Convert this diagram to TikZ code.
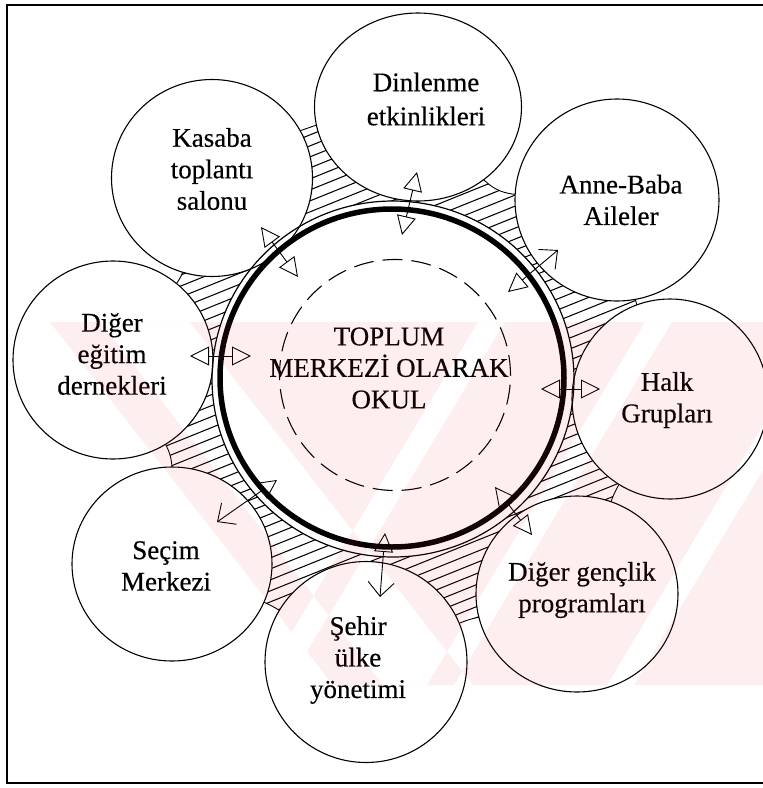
\documentclass[tikz,border=0pt]{standalone}
\usepackage{fontspec}
\setmainfont{Liberation Serif}[FakeBold=0.4]
\usetikzlibrary{shapes.geometric,arrows.meta}
\definecolor{wmpink}{RGB}{235,40,70}
\begin{document}
\begin{tikzpicture}[x=1pt,y=-1pt,
  bubble/.style={draw,line width=1.1pt,ellipse,inner sep=0pt,fill=white},
  lbl/.style={align=center,inner sep=0pt,font=\fontsize{27}{31.5}\selectfont},
  link/.style={line width=0.9pt,>={Triangle[open,length=19pt,width=19pt]},<->},
  barblink/.style={line width=0.9pt,{Triangle[open,length=19pt,width=19pt]}-{Straight Barb[length=14pt,width=26pt]}},
  hatch/.style={line width=1.05pt},
  ringthin/.style={line width=1.2pt},
  ringthick/.style={line width=5.5pt},
]
\useasboundingbox (0,0) rectangle (763,788);
% frame
\draw[line width=1.5pt] (775,5) -- (7,5) -- (7,783) -- (775,783);

% hatched band between the ring and the outer circles
\begin{scope}
\clip plot[smooth cycle,tension=0.55] coordinates {(212,178) (308,128) (418,107) (498,190) (617,200) (636,302) (670,399) (615,492) (577,594) (468,620) (366,662) (270,605) (172,564) (170,455) (113,360) (180,278)};
\foreach \k in {-400,-389,...,1300} \draw[hatch] (0,\k) -- (763,\k-308);
\end{scope}
\draw[line width=0.9pt] plot[smooth cycle,tension=0.55] coordinates {(212,178) (308,128) (418,107) (498,190) (617,200) (636,302) (670,399) (615,492) (577,594) (468,620) (366,662) (270,605) (172,564) (170,455) (113,360) (180,278)};

% centre disc
\fill[white] (393,379) ellipse [x radius=181, y radius=178];

% outer circles
\node[bubble,minimum width=201pt,minimum height=197pt] (kas) at (212,178) {};
\node[bubble,minimum width=207pt,minimum height=188pt] (din) at (418,107) {};
\node[bubble,minimum width=204pt,minimum height=202pt] (ann) at (617,200) {};
\node[bubble,minimum width=200pt,minimum height=198pt] (egi) at (113,360) {};
\node[bubble,minimum width=196pt,minimum height=200pt] (hal) at (670,399) {};
\node[bubble,minimum width=200pt,minimum height=194pt] (sec) at (172,564) {};
\node[bubble,minimum width=202pt,minimum height=201pt] (seh) at (366,662) {};
\node[bubble,minimum width=202pt,minimum height=196pt] (gen) at (577,594) {};

% central rings
\node[draw,ringthin,ellipse,inner sep=0pt,minimum width=362pt,minimum height=356pt] (ringout) at (393,379) {};
\node[draw,ringthick,ellipse,inner sep=0pt,minimum width=344pt,minimum height=338pt] (ringin) at (392,378) {};
\node[draw,line width=1.1pt,dash pattern=on 20pt off 9pt,circle,inner sep=0pt,minimum size=231pt] (core) at (395,375) {};

% arrow end points
\coordinate (a1) at (417,172); \coordinate (b1) at (402,235);
\coordinate (a2) at (261,227); \coordinate (b2) at (298,277);
\coordinate (a3) at (508,292); \coordinate (b3) at (558,250);
\coordinate (a4) at (190,356); \coordinate (b4) at (251,356);
\coordinate (a5) at (541,389); \coordinate (b5) at (600,389);
\coordinate (a6) at (277,480); \coordinate (b6) at (217,522);
\coordinate (a7) at (385,533); \coordinate (b7) at (380,597);
\coordinate (a8) at (495,487); \coordinate (b8) at (532,535);
\foreach \i in {1,2,4,5,8} \draw[link] (a\i) -- (b\i);
% arrows whose outer end is an open barb
\foreach \i in {3,6,7} \draw[barblink] (a\i) -- (b\i);

% labels
\node[lbl] (tcore) at (389,368) {TOPLUM\\MERKEZİ OLARAK\\OKUL};
\node[lbl,font=\fontsize{27}{34}\selectfont] (tdin) at (426,99) {Dinlenme\\etkinlikleri};
\node[lbl] (tkas) at (212,169) {Kasaba\\toplantı\\salonu};
\node[lbl] (tann) at (621,200) {Anne-Baba\\Aileler};
\node[lbl] (tegi) at (112,354) {Diğer\\eğitim\\dernekleri};
\node[lbl] (thal) at (667,400) {Halk\\Grupları};
\node[lbl] (tsec) at (166,566) {Seçim\\Merkezi};
\node[lbl] (tseh) at (358,660) {Şehir\\ülke\\yönetimi};
\node[lbl] (tgen) at (582,590) {Diğer gençlik\\programları};

% faint watermark: pink band with white diagonal gaps
\begin{scope}
\clip (50,322) -- (763,322) -- (763,685) -- (333,685) -- cycle;
\fill[wmpink,opacity=0.08,even odd rule]
  (0,322) rectangle (763,685)
  (100,322) -- (190,322) -- (473,685) -- (383,685) -- cycle
  (478,322) -- (505,322) -- (287,685) -- (260,685) -- cycle
  (645,322) -- (672,322) -- (454,685) -- (427,685) -- cycle
  (825,322) -- (852,322) -- (634,685) -- (607,685) -- cycle;
\end{scope}
\end{tikzpicture}
\end{document}
